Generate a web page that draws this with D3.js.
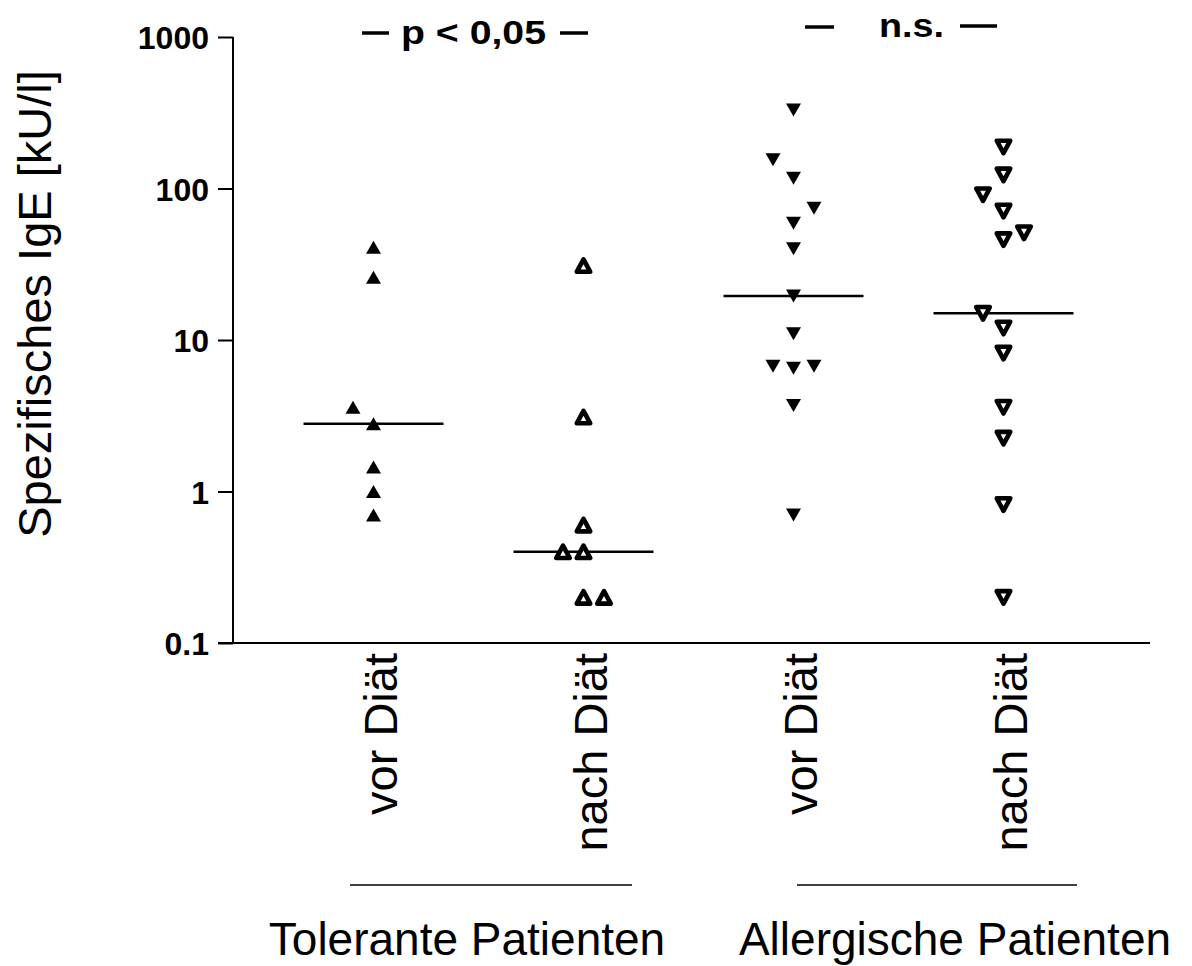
<!DOCTYPE html>
<html>
<head>
<meta charset="utf-8">
<script src="https://cdn.jsdelivr.net/npm/d3@7"></script>
<style>
  body { margin: 0; background: #fff; }
  svg { display: block; }
  text { font-family: "Liberation Sans", Arial, sans-serif; fill: #000; }
</style>
</head>
<body>
<script>
"use strict"

// data (kU/l), in patient order
var groupLabels = ["vor Diät", "nach Diät", "vor Diät", "nach Diät"];
var tolerantVor = [41, 26, 2.8, 3.6, 1.45, 1.0, 0.7];
var tolerantNach = [31, 3.1, 0.6, 0.4, 0.4, 0.2, 0.2];
var allergicVor = [330, 117, 155, 59, 74, 40, 19.5, 11, 6.5, 6.7, 6.7, 3.7, 0.7];
var allergicNach = [188, 123, 12, 15, 46, 51, 71, 91, 8.2, 3.6, 2.25, 0.82, 0.2];
var tickValues = [0.1, 1, 10, 100, 1000];
var tickLabels = ["0.1", "1", "10", "100", "1000"];
var patientGroups = ["Tolerante Patienten", "Allergische Patienten"];
var pLabels = ["p < 0,05", "n.s."];

var groups = [
    { values: tolerantVor, dir: "up", open: false },
    { values: tolerantNach, dir: "up", open: true },
    { values: allergicVor, dir: "down", open: false },
    { values: allergicNach, dir: "down", open: true }
];

var width = 1192, height = 966;

//Make an SVG Container
var svg = d3.select("body").append("svg")
                           .attr("width", width)
                           .attr("height", height);

var y = d3.scaleLog().domain([0.1, 1000]).range([643, 37]);
var x = d3.scalePoint().domain(d3.range(groups.length)).range([373.5, 1003.5]);

var axisX0 = 233, axisX1 = 1150;

// y axis
var yAxis = d3.axisLeft(y)
              .tickValues(tickValues)
              .tickSize(15)
              .tickPadding(9)
              .tickFormat(function(d, i) { return tickLabels[i]; });

var gy = svg.append("g").attr("transform", "translate(" + axisX0 + ",0)").call(yAxis);
gy.select(".domain").remove();
gy.selectAll(".tick line").attr("stroke", "#000").attr("stroke-width", 2);
gy.selectAll(".tick text")
  .attr("font-size", 32)
  .attr("font-weight", "bold")
  .attr("font-family", "Liberation Sans, Arial, sans-serif")
  .attr("dy", "0.36em");

svg.append("line").attr("x1", axisX0).attr("x2", axisX0)
   .attr("y1", y(1000)).attr("y2", y(0.1))
   .attr("stroke", "#000").attr("stroke-width", 2);
svg.append("line").attr("x1", axisX0 - 15).attr("x2", axisX1)
   .attr("y1", y(0.1)).attr("y2", y(0.1))
   .attr("stroke", "#000").attr("stroke-width", 2);

svg.append("text")
   .attr("transform", "translate(51," + 304 + ") rotate(-90)")
   .attr("text-anchor", "middle")
   .attr("font-size", 47)
   .text("Spezifisches IgE [kU/l]");

// category labels (rotated)
svg.selectAll(".cat").data(groupLabels).enter().append("text")
   .attr("class", "cat")
   .attr("transform", function(d, i) { return "translate(" + (x(i) + 23) + ",653) rotate(-90)"; })
   .attr("text-anchor", "end")
   .attr("font-size", 47)
   .text(function(d) { return d; });

// patient group brackets and labels
var brackets = [[350, 632], [797, 1077]];
svg.selectAll(".bracket").data(brackets).enter().append("line")
   .attr("x1", function(d) { return d[0]; })
   .attr("x2", function(d) { return d[1]; })
   .attr("y1", 885).attr("y2", 885)
   .attr("stroke", "#000").attr("stroke-width", 1.5);

svg.selectAll(".pgroup").data(patientGroups).enter().append("text")
   .attr("x", function(d, i) { return i === 0 ? 467 : 955; })
   .attr("y", 955)
   .attr("text-anchor", "middle")
   .attr("font-size", 46)
   .text(function(d) { return d; });

// simple dot-plot layout: points that would overlap move one slot sideways
function layout(values) {
    var placed = [], counter = 0, step = 20.5, minGap = 19;
    values.forEach(function(v) {
        var py = y(v);
        function free(slot) {
            return placed.every(function(p) { return p.slot !== slot || Math.abs(p.py - py) >= minGap; });
        }
        var slot = 0;
        if (!free(0)) {
            var side = counter % 2 === 0 ? -1 : 1;
            counter++;
            slot = free(side) ? side : -side;
        }
        placed.push({ v: v, py: py, slot: slot, dx: slot * step });
    });
    return placed;
}

function triangle(dir, w, h) {
    var s = dir === "up" ? 1 : -1;
    return "M0," + (-s * h / 2) + "L" + (w / 2) + "," + (s * h / 2) + "L" + (-w / 2) + "," + (s * h / 2) + "Z";
}

groups.forEach(function(g, i) {
    var pts = layout(g.values);
    var cx = x(i);

    // median line
    var med = d3.median(g.values);
    svg.append("line")
       .attr("x1", cx - 70).attr("x2", cx + 70)
       .attr("y1", y(med)).attr("y2", y(med))
       .attr("stroke", "#000").attr("stroke-width", 2.4);

    svg.selectAll(".pt" + i).data(pts).enter().append("path")
       .attr("class", "pt" + i)
       .attr("transform", function(d) { return "translate(" + (cx + d.dx) + "," + d.py + ")"; })
       .attr("d", g.open ? triangle(g.dir, 13.5, 12.5) : triangle(g.dir, 15, 13))
       .attr("fill", g.open ? "#fff" : "#000")
       .attr("stroke", g.open ? "#000" : "none")
       .attr("stroke-width", g.open ? 4.6 : 0)
       .attr("stroke-linejoin", "round");
});

// significance annotations
function dash(x1, x2, yy) {
    svg.append("line").attr("x1", x1).attr("x2", x2).attr("y1", yy).attr("y2", yy)
       .attr("stroke", "#000").attr("stroke-width", 3.5);
}
dash(362, 389, 33);
dash(560, 588, 33);
svg.append("text").attr("x", 401).attr("y", 44)
   .attr("font-size", 34).attr("font-weight", "bold")
   .attr("textLength", 145).attr("lengthAdjust", "spacingAndGlyphs")
   .text(pLabels[0]);

dash(805, 834, 27);
dash(960, 997, 26);
svg.append("text").attr("x", 879).attr("y", 37)
   .attr("font-size", 34).attr("font-weight", "bold")
   .attr("textLength", 65).attr("lengthAdjust", "spacingAndGlyphs")
   .text(pLabels[1]);
</script>
</body>
</html>
